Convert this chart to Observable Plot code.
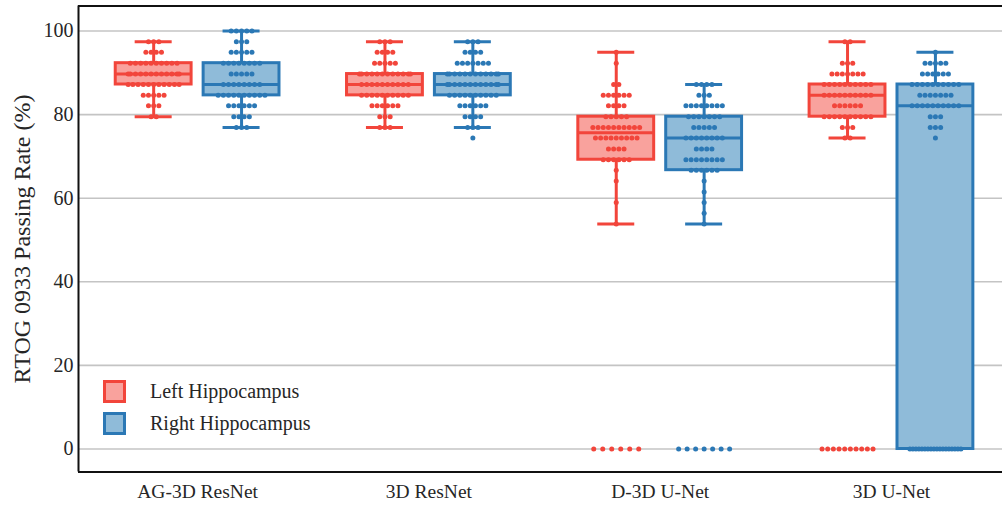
<!DOCTYPE html>
<html><head><meta charset="utf-8">
<script src="https://cdn.jsdelivr.net/npm/d3@7"></script>
<script src="https://cdn.jsdelivr.net/npm/@observablehq/plot@0.6"></script>
<style>
body{margin:0;background:#fff;}
#wrap{position:relative;width:1002px;height:506px;}
.legend{position:absolute;left:103px;top:375.5px;font-family:"Liberation Serif",serif;font-size:20px;color:#262626;}
.row{display:flex;align-items:center;height:32px;}
.sw{width:17px;height:17px;border:3px solid;margin-right:24px;}
</style></head><body><div id="wrap"></div>
<script>
const categories = ["AG-3D ResNet", "3D ResNet", "D-3D U-Net", "3D U-Net"];
const hues = ["Left Hippocampus", "Right Hippocampus"];
const yTicks = [0, 20, 40, 60, 80, 100];
// passing-rate levels seen in the swarms
const levels = [100, 97.4, 94.9, 92.3, 89.7, 87.2, 84.6, 82.1, 79.5, 76.9, 74.4, 71.8, 69.2, 66.7, 64.1, 61.5, 59.0, 56.4, 53.8, 0];
// number of cases at each level (aligned with levels)
const leftAG3DResNet   = [0, 3, 4, 10, 12, 11, 5, 3, 2, 0, 0, 0, 0, 0, 0, 0, 0, 0, 0, 0];
const rightAG3DResNet  = [5, 3, 5, 8, 5, 8, 10, 6, 4, 3, 0, 0, 0, 0, 0, 0, 0, 0, 0, 0];
const left3DResNet     = [0, 3, 4, 5, 12, 10, 10, 6, 3, 3, 0, 0, 0, 0, 0, 0, 0, 0, 0, 0];
const right3DResNet    = [0, 3, 4, 7, 12, 12, 10, 6, 4, 3, 1, 0, 0, 0, 0, 0, 0, 0, 0, 0];
const leftD3DUNet      = [0, 0, 1, 1, 0, 2, 6, 4, 5, 10, 9, 4, 6, 1, 1, 0, 1, 0, 1, 6];
const rightD3DUNet     = [0, 0, 0, 0, 0, 4, 3, 8, 7, 5, 8, 4, 8, 6, 1, 1, 1, 1, 1, 7];
const left3DUNet       = [0, 2, 0, 3, 7, 10, 10, 6, 10, 3, 2, 0, 0, 0, 0, 0, 0, 0, 0, 10];
const right3DUNet      = [0, 0, 1, 5, 6, 10, 7, 10, 3, 3, 1, 0, 0, 0, 0, 0, 0, 0, 0, 18];

const seriesCounts = [
  [leftAG3DResNet, rightAG3DResNet],
  [left3DResNet, right3DResNet],
  [leftD3DUNet, rightD3DUNet],
  [left3DUNet, right3DUNet]
];
const edgeColors = ["#f2453b", "#2b78b5"];
const fillColors = ["#f9a29d", "#8fbbd9"];

// layout
const xDomain = [-0.515, 3.48];
const yDomain = [-5.5, 105.98];
const W = 1002, H = 506, mL = 78, mR = 0, mT = 5.5, mB = 34.5;
const pxPerUnit = (W - mL - mR) / (xDomain[1] - xDomain[0]);
const hueOffset = [-0.19, 0.19];
const boxHalf = 0.164, capHalf = 0.08;
const dotStep = 5.2 / pxPerUnit, dotLimit = 25.5 / pxPerUnit;

const points = [], stats = [];
seriesCounts.forEach((pair, ci) => pair.forEach((counts, hi) => {
  const xc = ci + hueOffset[hi];
  const vals = [];
  counts.forEach((n, li) => {
    // the zero-rate row is spread over the full swarm width
    const step = (levels[li] === 0 && n > 1) ? Math.min(2 * dotLimit / (n - 1), 9 / pxPerUnit) : dotStep;
    for (let j = 0; j < n; j++) {
      let off = (j - (n - 1) / 2) * step;
      off = Math.max(-dotLimit, Math.min(dotLimit, off));
      points.push({cat: categories[ci], hue: hi, value: levels[li], x: xc + off});
      vals.push(levels[li]);
    }
  });
  vals.sort(d3.ascending);
  const q1 = d3.quantileSorted(vals, 0.25), med = d3.quantileSorted(vals, 0.5), q3 = d3.quantileSorted(vals, 0.75);
  const iqr = q3 - q1;
  const lo = d3.min(vals.filter(v => v >= q1 - 1.5 * iqr - 0.1));
  const hiW = d3.max(vals.filter(v => v <= q3 + 1.5 * iqr + 0.1));
  stats.push({cat: categories[ci], hue: hi, xc, q1, med, q3, lo, hi: hiW});
}));

const marks = [Plot.ruleY(yTicks, {stroke: "#c4c4c4", strokeWidth: 1.6})];
[0, 1].forEach(h => {
  const s = stats.filter(d => d.hue === h);
  const c = edgeColors[h];
  marks.push(
    Plot.ruleX(s, {x: "xc", y1: "q3", y2: "hi", stroke: c, strokeWidth: 3}),
    Plot.ruleX(s, {x: "xc", y1: "q1", y2: "lo", stroke: c, strokeWidth: 3}),
    Plot.ruleY(s, {y: "hi", x1: d => d.xc - capHalf, x2: d => d.xc + capHalf, stroke: c, strokeWidth: 3}),
    Plot.ruleY(s, {y: "lo", x1: d => d.xc - capHalf, x2: d => d.xc + capHalf, stroke: c, strokeWidth: 3}),
    Plot.rect(s, {x1: d => d.xc - boxHalf, x2: d => d.xc + boxHalf, y1: "q1", y2: "q3", fill: fillColors[h], stroke: c, strokeWidth: 3}),
    Plot.ruleY(s, {y: "med", x1: d => d.xc - boxHalf, x2: d => d.xc + boxHalf, stroke: c, strokeWidth: 3})
  );
});
[0, 1].forEach(h => {
  marks.push(Plot.dot(points.filter(d => d.hue === h), {x: "x", y: "value", r: 2.5, fill: edgeColors[h], stroke: "none"}));
});
marks.push(
  Plot.ruleY([yDomain[0], yDomain[1]], {stroke: "#111", strokeWidth: 2}),
  Plot.ruleX([xDomain[0]], {stroke: "#111", strokeWidth: 2}),
  Plot.axisY({ticks: yTicks, tickSize: 0, tickPadding: 5, fontSize: 20, label: "RTOG 0933 Passing Rate (%)", labelAnchor: "center", labelArrow: "none", labelOffset: 66}),
  Plot.axisX({ticks: [0, 1, 2, 3], tickFormat: i => categories[i], tickSize: 0, tickPadding: 12, fontSize: 19.5, label: null})
);

const chart = Plot.plot({
  width: W, height: H, marginLeft: mL, marginRight: mR, marginTop: mT, marginBottom: mB,
  x: {type: "linear", domain: xDomain},
  y: {type: "linear", domain: yDomain},
  style: {fontFamily: "Liberation Serif", color: "#262626", background: "white"},
  marks
});
const lbl = chart.querySelector('[aria-label="y-axis label"]');
if (lbl) { lbl.setAttribute("font-size", "24"); lbl.style.fontSize = "24px"; }
const wrap = document.getElementById("wrap");
wrap.appendChild(chart);

const legend = document.createElement("div");
legend.className = "legend";
hues.forEach((h, i) => {
  const row = document.createElement("div");
  row.className = "row";
  const sw = document.createElement("div");
  sw.className = "sw";
  sw.style.background = fillColors[i];
  sw.style.borderColor = edgeColors[i];
  const t = document.createElement("span");
  t.textContent = h;
  row.appendChild(sw); row.appendChild(t);
  legend.appendChild(row);
});
wrap.appendChild(legend);
</script></body></html>
